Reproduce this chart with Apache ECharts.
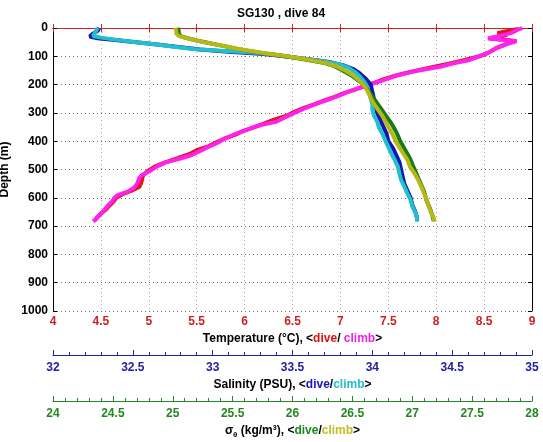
<!DOCTYPE html>
<html><head><meta charset="utf-8">
<script src="https://cdn.jsdelivr.net/npm/echarts@6/dist/echarts.min.js"></script>
<style>html,body{margin:0;padding:0;background:#fff}#c{width:543px;height:442px}</style>
</head><body><div id="c"></div>
<script>
// Temperature, dive (red)
var tempDiveDepth = [3,12,18,24,30,36,42,47,58,72,88,100,113,127,141,154,166,180,193,205,218,230,243,255,268,282,296,310,325,338,350,365,378,392,405,418,432,446,460,475,490,505,520,535,548,562,575,588,600,614,628,642,656,670,682];
var tempDive = [8.86,8.72,8.64,8.74,8.66,8.56,8.74,8.82,8.72,8.62,8.54,8.45,8.30,8.12,7.92,7.74,7.60,7.46,7.36,7.25,7.15,7.04,6.94,6.84,6.74,6.62,6.52,6.44,6.30,6.20,6.10,5.98,5.90,5.78,5.70,5.62,5.50,5.42,5.30,5.17,5.06,4.99,4.94,4.93,4.92,4.90,4.82,4.72,4.66,4.63,4.59,4.55,4.50,4.46,4.43];
// Temperature, climb (magenta)
var tempClimbDepth = [0,8,18,28,37,42,46,55,70,90,113,125,137,154,165,178,190,200,212,225,237,250,262,272,285,302,316,331,340,349,362,378,390,407,420,437,449,461,475,490,508,519,530,549,563,578,590,600,612,625,637,649,662,678,684];
var tempClimb = [8.90,8.84,8.78,8.66,8.54,8.70,8.84,8.75,8.64,8.53,8.35,8.18,8.04,7.76,7.62,7.50,7.40,7.30,7.20,7.08,7.00,6.90,6.80,6.72,6.62,6.51,6.42,6.33,6.20,6.11,6.00,5.88,5.80,5.71,5.62,5.52,5.45,5.33,5.18,5.08,5.00,4.93,4.90,4.88,4.85,4.78,4.68,4.64,4.62,4.58,4.55,4.52,4.48,4.44,4.42];
// Salinity, dive (blue)
var salDiveDepth = [0,10,20,30,36,44,52,60,68,76,84,92,100,110,120,132,145,160,180,200,225,250,275,300,325,350,375,400,425,450,475,500,525,550,575,600,625,650,672,682];
var salDive = [32.29,32.28,32.25,32.23,32.28,32.42,32.55,32.68,32.80,32.92,33.10,33.32,33.45,33.60,33.73,33.82,33.88,33.92,33.96,33.99,34.00,34.01,34.02,34.03,34.05,34.07,34.09,34.10,34.13,34.15,34.17,34.18,34.19,34.20,34.22,34.24,34.25,34.27,34.28,34.28];
// Salinity, climb (cyan)
var salClimbDepth = [0,10,20,28,34,42,50,58,66,74,80,86,92,100,108,118,128,140,155,170,190,210,230,250,270,290,310,330,350,370,396,420,445,466,490,515,537,560,585,608,630,652,672,685];
var salClimb = [32.28,32.27,32.26,32.25,32.30,32.40,32.52,32.65,32.76,32.88,33.05,33.22,33.36,33.46,33.56,33.70,33.79,33.85,33.89,33.92,33.95,33.97,33.98,33.99,34.00,34.00,34.01,34.03,34.04,34.06,34.08,34.10,34.12,34.14,34.16,34.17,34.18,34.20,34.22,34.24,34.25,34.27,34.28,34.28];
// Sigma-theta, dive (green)
var sigDiveDepth = [0,10,20,30,38,46,55,64,72,80,88,96,105,114,124,135,150,170,195,220,250,280,310,340,370,400,430,460,490,520,550,580,610,640,665,682];
var sigDive = [25.04,25.05,25.05,25.07,25.14,25.22,25.32,25.43,25.52,25.62,25.74,25.88,26.02,26.14,26.27,26.35,26.42,26.50,26.58,26.63,26.68,26.73,26.78,26.83,26.87,26.90,26.94,26.98,27.01,27.04,27.07,27.10,27.12,27.15,27.17,27.18];
// Sigma-theta, climb (yellow)
var sigClimbDepth = [0,10,20,28,34,42,50,58,66,74,82,90,98,107,116,125,136,148,165,190,210,225,254,280,310,349,380,407,440,466,490,515,537,565,596,620,645,672,685];
var sigClimb = [25.02,25.03,25.03,25.05,25.10,25.18,25.26,25.36,25.46,25.55,25.67,25.78,25.93,26.06,26.18,26.29,26.37,26.43,26.50,26.57,26.61,26.63,26.66,26.70,26.75,26.80,26.84,26.87,26.92,26.96,26.98,27.02,27.05,27.08,27.11,27.13,27.15,27.18,27.18];

var depthTicks = [0,100,200,300,400,500,600,700,800,900,1000];

function pairs(xs, ds){ return xs.map(function(v,i){ return [v, ds[i]]; }); }
var FONT = 'Liberation Sans';
var lbl = function(c){ return {color:c, fontWeight:'bold', fontSize:12, fontFamily:FONT}; };
var nameRich = function(extra){
  var r = {b:{color:'#000', fontWeight:'bold', fontSize:12, fontFamily:FONT}};
  for (var k in extra) r[k] = extra[k];
  return {rich:r};
};
function ln(name, data, color, xi){
  return {type:'line', name:name, xAxisIndex:xi, yAxisIndex:0, data:data, showSymbol:false,
    symbol:'none', lineStyle:{color:color, width:4}, animation:false, silent:true};
}

var chart = echarts.init(document.getElementById('c'));
chart.setOption({
  animation:false,
  backgroundColor:'#fff',
  grid:{left:53, top:28, right:11, bottom:131, containLabel:false, outerBoundsMode:'none'},
  graphic:[{type:'text', left:237, top:8, style:{text:'SG130 , dive 84', fill:'#000', font:'bold 12px "Liberation Sans"'}}],
  xAxis:[
    {type:'value', position:'bottom', min:4, max:9, interval:0.5,
     axisLine:{lineStyle:{color:'#cc2222'}}, axisTick:{inside:true, length:4, lineStyle:{color:'#cc2222'}},
     axisLabel:Object.assign(lbl('#cc2222'), {margin:5, formatter:function(v){return String(+v.toFixed(1));}}),
     splitLine:{show:true, lineStyle:{color:'#c89a9a', type:[1,3], width:1}},
     name:'{b|Temperature (°C), <}{r|dive}{b|/ }{m|climb}{b|>}', nameLocation:'middle', nameGap:21,
     nameTextStyle:nameRich({r:{color:'#dd1111', fontWeight:'bold', fontSize:12, fontFamily:FONT}, m:{color:'#ee22dd', fontWeight:'bold', fontSize:12, fontFamily:FONT}})},
    {type:'value', position:'top', min:4, max:9, interval:0.5,
     axisLine:{lineStyle:{color:'#cc2222'}}, axisTick:{inside:true, length:4, lineStyle:{color:'#cc2222'}},
     axisLabel:{show:false}, splitLine:{show:false}},
    {type:'value', position:'bottom', offset:44, min:32, max:35, interval:0.5,
     axisLine:{onZero:false, lineStyle:{color:'#2222a0'}}, axisTick:{inside:true, length:5, lineStyle:{color:'#2222a0'}},
     minorTick:{show:true, splitNumber:5, length:3, lineStyle:{color:'#2222a0'}},
     axisLabel:Object.assign(lbl('#2222a0'), {margin:7}), splitLine:{show:false},
     name:'{b|Salinity (PSU), <}{d|dive}{b|/}{c|climb}{b|>}', nameLocation:'middle', nameGap:22,
     nameTextStyle:nameRich({d:{color:'#1515b5', fontWeight:'bold', fontSize:12, fontFamily:FONT}, c:{color:'#22c0cc', fontWeight:'bold', fontSize:12, fontFamily:FONT}})},
    {type:'value', position:'bottom', offset:90, min:24, max:28, interval:0.5,
     axisLine:{onZero:false, lineStyle:{color:'#228822'}}, axisTick:{inside:true, length:5, lineStyle:{color:'#228822'}},
     minorTick:{show:true, splitNumber:5, length:3, lineStyle:{color:'#228822'}},
     axisLabel:Object.assign(lbl('#228822'), {margin:7}), splitLine:{show:false},
     name:'{b|σ}{s|θ}{b| (kg/m³), <}{g|dive}{b|/}{y|climb}{b|>}', nameLocation:'middle', nameGap:19,
     nameTextStyle:nameRich({
       s:{color:'#000', fontSize:8, fontFamily:FONT, fontWeight:'bold', padding:[8,0,0,0]},
       g:{color:'#1a8a1a', fontWeight:'bold', fontSize:12, fontFamily:FONT},
       y:{color:'#c0c020', fontWeight:'bold', fontSize:12, fontFamily:FONT}})}
  ],
  yAxis:[
    {type:'value', inverse:true, min:0, max:1000, interval:100, position:'left',
     axisLine:{lineStyle:{color:'#000'}}, axisTick:{inside:true, length:4, lineStyle:{color:'#000'}},
     axisLabel:Object.assign(lbl('#000'), {margin:5, formatter:function(v){return String(v);}}),
     splitLine:{show:true, lineStyle:{color:'#707070', type:[1,3], width:1}},
     name:'Depth (m)', nameLocation:'middle', nameGap:34,
     nameTextStyle:{color:'#000', fontWeight:'bold', fontSize:12, fontFamily:FONT}},
    {type:'value', inverse:true, min:0, max:1000, interval:100, position:'right',
     axisLine:{lineStyle:{color:'#000'}}, axisTick:{inside:true, length:4, lineStyle:{color:'#000'}},
     axisLabel:{show:false}, splitLine:{show:false}}
  ],
  series:[
    ln('tempDive', pairs(tempDive, tempDiveDepth), '#e01818', 0),
    ln('tempClimb', pairs(tempClimb, tempClimbDepth), '#ff22ee', 0),
    ln('salDive', pairs(salDive, salDiveDepth), '#1515b5', 2),
    ln('salClimb', pairs(salClimb, salClimbDepth), '#22c0cc', 2),
    ln('sigDive', pairs(sigDive, sigDiveDepth), '#1a7a1a', 3),
    ln('sigClimb', pairs(sigClimb, sigClimbDepth), '#b8b814', 3)
  ]
});
</script></body></html>
